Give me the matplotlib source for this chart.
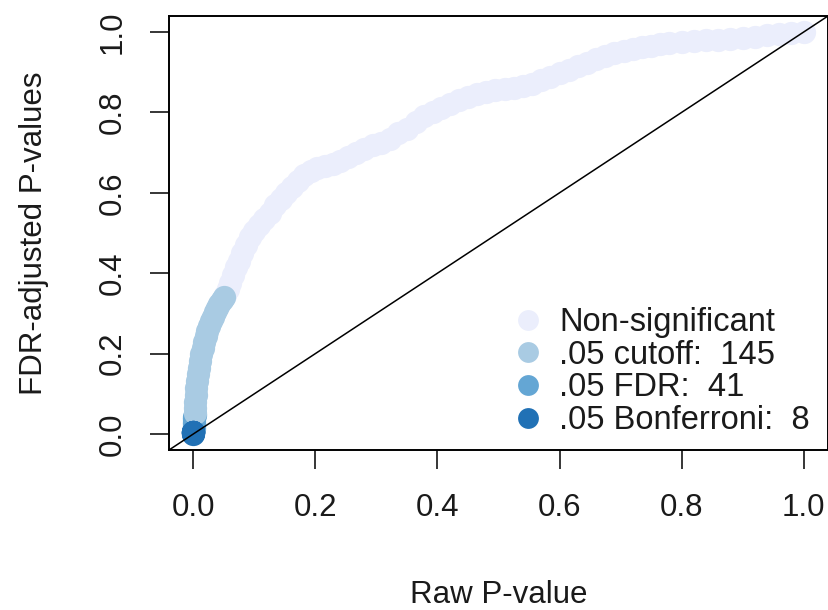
import matplotlib.pyplot as plt
from matplotlib.lines import Line2D

plt.rcParams["font.family"] = ["Liberation Sans", "DejaVu Sans"]

# raw p-values vs FDR (BH) adjusted p-values
bonf_raw = [0.000002, 0.000005, 0.00001, 0.000015, 0.00002, 0.00003, 0.00004, 0.000045]
bonf_adj = [0.001, 0.002, 0.003, 0.004, 0.005, 0.006, 0.006, 0.006]

fdr_raw = [0.0001, 0.0002, 0.0004, 0.0006, 0.0008, 0.0011, 0.0014, 0.0018]
fdr_adj = [0.008, 0.012, 0.018, 0.024, 0.030, 0.036, 0.042, 0.048]

cut_raw = [0.0021, 0.0026, 0.0032, 0.0040, 0.0050, 0.0062, 0.0076, 0.0092,
           0.0110, 0.0130, 0.0152, 0.0176, 0.0200, 0.0226, 0.0254, 0.0284,
           0.0316, 0.0350, 0.0386, 0.0424, 0.0462, 0.0499]
cut_adj = [0.052, 0.065, 0.080, 0.098, 0.115, 0.132, 0.148, 0.165,
           0.182, 0.198, 0.214, 0.229, 0.243, 0.256, 0.268, 0.280,
           0.292, 0.303, 0.314, 0.324, 0.333, 0.340]

ns_raw = [0.052, 0.056, 0.060, 0.065, 0.070, 0.075, 0.080, 0.086, 0.093, 0.100,
          0.108, 0.116, 0.125, 0.134, 0.143, 0.152, 0.162, 0.172, 0.182, 0.192,
          0.203, 0.215, 0.228, 0.240, 0.253, 0.266, 0.280, 0.294, 0.308, 0.322,
          0.336, 0.350, 0.364, 0.378, 0.392, 0.406, 0.420, 0.435, 0.450, 0.465,
          0.480, 0.495, 0.510, 0.525, 0.540, 0.555, 0.570, 0.585, 0.600, 0.615,
          0.630, 0.645, 0.660, 0.675, 0.690, 0.705, 0.720, 0.735, 0.750, 0.765,
          0.780, 0.800, 0.820, 0.840, 0.860, 0.880, 0.900, 0.920, 0.940, 0.960,
          0.980, 1.000]
ns_adj = [0.345, 0.360, 0.375, 0.395, 0.415, 0.430, 0.450, 0.470, 0.490, 0.505,
          0.520, 0.535, 0.550, 0.570, 0.585, 0.600, 0.615, 0.630, 0.645, 0.655,
          0.662, 0.667, 0.672, 0.680, 0.690, 0.700, 0.710, 0.718, 0.725, 0.735,
          0.748, 0.760, 0.775, 0.790, 0.800, 0.810, 0.820, 0.830, 0.838, 0.845,
          0.850, 0.855, 0.858, 0.862, 0.866, 0.872, 0.880, 0.888, 0.897, 0.906,
          0.915, 0.924, 0.932, 0.940, 0.947, 0.953, 0.958, 0.962, 0.966, 0.970,
          0.973, 0.976, 0.978, 0.980, 0.981, 0.983, 0.985, 0.988, 0.992, 0.996,
          0.998, 1.000]

n_cutoff = 145
n_fdr = 41
n_bonf = 8

ticks = [0.0, 0.2, 0.4, 0.6, 0.8, 1.0]

COL_NS = "#EBEEFC"
COL_CUT = "#A9CBE3"
COL_FDR = "#64A6D4"
COL_BONF = "#2171B5"
TXT = "#1a1a1a"

fig = plt.figure(figsize=(8.29, 6.10), dpi=100)
ax = fig.add_axes([169 / 829, 160 / 610, 659 / 829, 434 / 610])

msize = 280
ax.scatter(ns_raw, ns_adj, s=msize, color=COL_NS, linewidths=0, zorder=2)
ax.scatter(fdr_raw, fdr_adj, s=msize, color=COL_FDR, linewidths=0, zorder=3)
ax.scatter(cut_raw, cut_adj, s=msize, color=COL_CUT, linewidths=0, zorder=4)
ax.scatter(bonf_raw, bonf_adj, s=msize, color=COL_BONF, linewidths=0, zorder=5)

# identity line
ax.axline((0, 0), slope=1, color="black", lw=1.1, zorder=6)

ax.set_xlim(-0.04, 1.04)
ax.set_ylim(-0.04, 1.04)
ax.set_xticks(ticks)
ax.set_yticks(ticks)
ax.set_xticklabels([f"{t:.1f}" for t in ticks])
ax.set_yticklabels([f"{t:.1f}" for t in ticks])
ax.tick_params(axis="both", direction="out", length=14, width=1.1,
               labelsize=22.5, labelcolor=TXT)
ax.tick_params(axis="x", pad=17)
ax.tick_params(axis="y", pad=16)
plt.setp(ax.get_yticklabels(), rotation=90, va="center")
for sp in ax.spines.values():
    sp.set_linewidth(1.4)

ax.set_xlabel("Raw P-value", fontsize=22.5, color=TXT, va="center")
ax.set_ylabel("FDR-adjusted P-values", fontsize=22.5, color=TXT, va="center")
ax.xaxis.set_label_coords(0.5, -0.335)
ax.yaxis.set_label_coords(-0.205, 0.5)

handles = [
    Line2D([], [], ls="", marker="o", ms=15, mew=0, color=c)
    for c in (COL_NS, COL_CUT, COL_FDR, COL_BONF)
]
labels = [
    "Non-significant",
    f".05 cutoff:  {n_cutoff}",
    f".05 FDR:  {n_fdr}",
    f".05 Bonferroni:  {n_bonf}",
]
leg = ax.legend(handles, labels, loc="lower left",
                bbox_to_anchor=(0.52, 0.032), frameon=False,
                fontsize=23.5, handlelength=1.0, handletextpad=0.45,
                labelspacing=0.05, borderpad=0, borderaxespad=0)
for t in leg.get_texts():
    t.set_color(TXT)

fig.savefig("out.png", dpi=100)
